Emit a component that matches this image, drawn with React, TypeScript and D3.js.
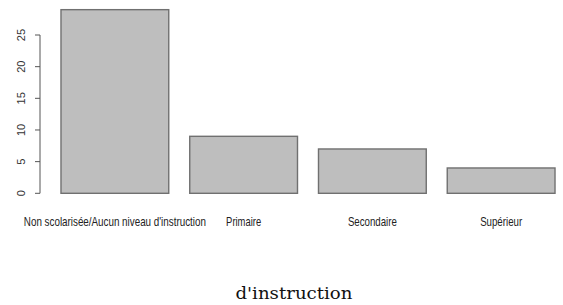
import React from "react";
import * as d3 from "d3";

const categories = [
  "Non scolarisée/Aucun niveau d'instruction",
  "Primaire",
  "Secondaire",
  "Supérieur",
];
const values = [29, 9, 7, 4];
const yTicks = [0, 5, 10, 15, 20, 25];
const labelWidths = [182, 35, 49, 42];
const title = "d'instruction";

export default function App() {
  const W = 563;
  const H = 305;
  const y = d3.scaleLinear().domain([0, 25]).range([193.3, 35]);
  const x = d3
    .scaleBand<string>()
    .domain(categories)
    .range([40, 576])
    .paddingInner(0.163)
    .paddingOuter(0.163);
  return (
    <div style={{ position: "absolute", left: 0, top: 0 }}>
      <svg width={W} height={H} style={{ display: "block", background: "#fff" }}>
        {categories.map((c, i) => (
          <rect
            key={c}
            x={x(c)!}
            y={y(values[i])}
            width={x.bandwidth()}
            height={y(0) - y(values[i])}
            fill="#bebebe"
            stroke="#707070"
            strokeWidth={1.4}
          />
        ))}
        <line x1={40} x2={40} y1={y(0)} y2={y(25)} stroke="#555" strokeWidth={1} />
        {yTicks.map((t) => (
          <g key={t}>
            <line x1={35} x2={40} y1={y(t)} y2={y(t)} stroke="#555" strokeWidth={1} />
            <text
              transform={`translate(25,${y(t)}) rotate(-90)`}
              textAnchor="middle"
              fontFamily="Liberation Sans, Arial, sans-serif"
              fontSize={11}
              fill="#333"
            >
              {t}
            </text>
          </g>
        ))}
        {categories.map((c, i) => (
          <text
            key={c}
            transform={`translate(${x(c)! + x.bandwidth() / 2 - labelWidths[i] / 2},225.7) scale(1,1.22)`}
            textLength={labelWidths[i]}
            lengthAdjust="spacingAndGlyphs"
            fontFamily="Liberation Sans, Arial, sans-serif"
            fontSize={9.8}
            fill="#222"
          >
            {c}
          </text>
        ))}
        <text
          x={294 - 58.5}
          y={299}
          textLength={117}
          lengthAdjust="spacingAndGlyphs"
          fontFamily="DejaVu Serif, Liberation Serif, serif"
          fontSize={17}
          fill="#111"
        >
          {title}
        </text>
      </svg>
    </div>
  );
}
